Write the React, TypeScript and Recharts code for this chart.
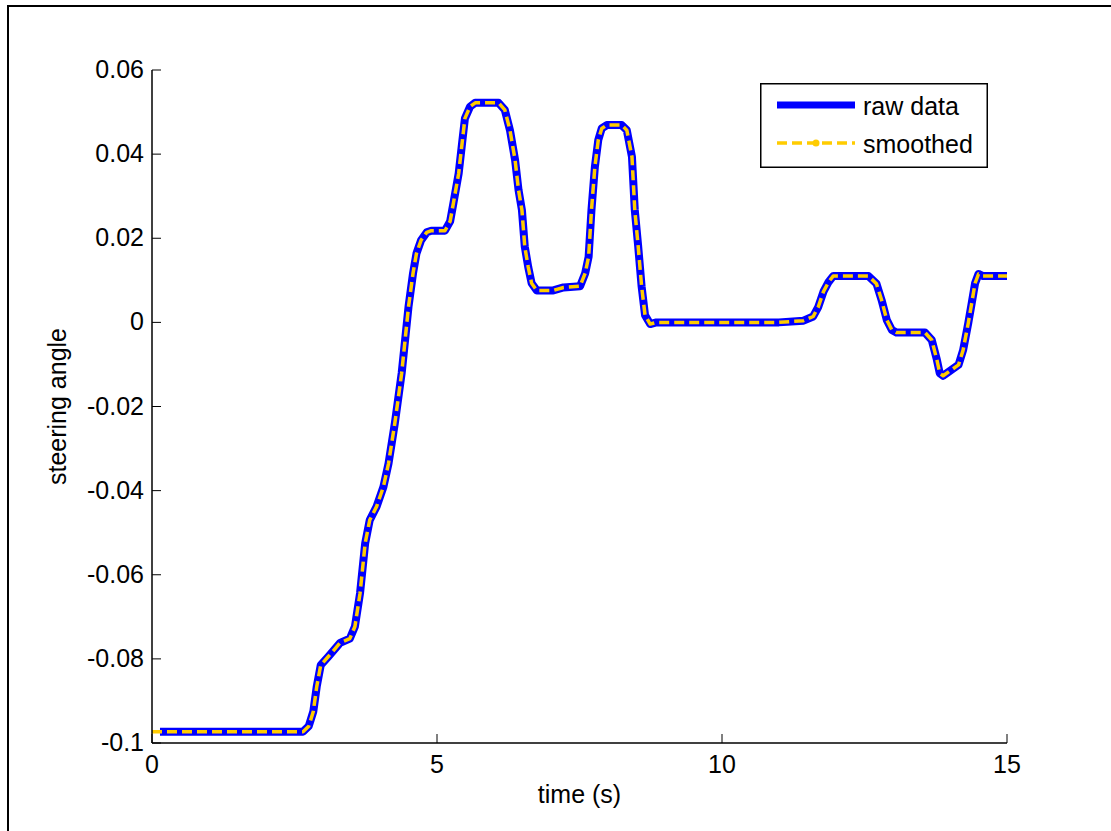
import { LineChart, Line, XAxis, YAxis, Legend } from 'recharts'

// time (s)
const TIME = [
  0, 0.14, 2.65, 2.75, 2.83, 2.89, 2.96, 3.09, 3.3, 3.47, 3.56, 3.65, 3.74, 3.82, 3.94, 4.06, 4.15, 4.26,
  4.38, 4.44, 4.5, 4.58, 4.64, 4.72, 4.82, 4.9, 5.14, 5.23, 5.29, 5.38, 5.44, 5.49, 5.58, 5.67, 6.08, 6.19,
  6.28, 6.37, 6.43, 6.49, 6.54, 6.6, 6.66, 6.75, 7.04, 7.22, 7.51, 7.6, 7.66, 7.71, 7.77, 7.83, 7.89, 7.98,
  8.24, 8.33, 8.42, 8.47, 8.53, 8.59, 8.65, 8.74, 8.85, 11.0, 11.43, 11.6, 11.69, 11.78, 11.87, 11.95, 12.57,
  12.71, 12.8, 12.89, 12.98, 13.06, 13.56, 13.68, 13.77, 13.82, 13.88, 14.15, 14.23, 14.32, 14.38, 14.44,
  14.5, 14.58, 15,
]

const RAW = [
  null, -0.0973, -0.0973, -0.096, -0.0925, -0.0866, -0.0815, -0.0795, -0.0762, -0.0752, -0.0723, -0.0644,
  -0.0525, -0.047, -0.0438, -0.0391, -0.0335, -0.024, -0.0121, -0.0042, 0.0037, 0.0117, 0.0164, 0.0195,
  0.0214, 0.0218, 0.0218, 0.024, 0.0285, 0.0354, 0.0426, 0.0485, 0.0513, 0.0522, 0.0522, 0.0505, 0.0457,
  0.0386, 0.0315, 0.0267, 0.018, 0.0132, 0.0093, 0.0076, 0.0076, 0.0083, 0.0086, 0.0117, 0.0156, 0.0267,
  0.037, 0.0434, 0.0461, 0.0469, 0.0469, 0.0457, 0.0394, 0.0267, 0.018, 0.0085, 0.0017, -0.0004, 0, 0,
  0.0004, 0.0014, 0.0037, 0.0073, 0.0096, 0.011, 0.011, 0.0092, 0.0053, 0.0006, -0.0018, -0.0024, -0.0024,
  -0.0042, -0.0089, -0.0121, -0.0127, -0.0101, -0.0066, -0.0002, 0.0045, 0.0093, 0.0115, 0.011, 0.011,
]

const SMOOTHED = [
  -0.0973, -0.0973, -0.0973, -0.096, -0.0925, -0.0866, -0.0815, -0.0795, -0.0762, -0.0752, -0.0723, -0.0644,
  -0.0525, -0.047, -0.0438, -0.0391, -0.0335, -0.024, -0.0121, -0.0042, 0.0037, 0.0117, 0.0164, 0.0195,
  0.0214, 0.0218, 0.0218, 0.024, 0.0285, 0.0354, 0.0426, 0.0485, 0.0513, 0.0522, 0.0522, 0.0505, 0.0457,
  0.0386, 0.0315, 0.0267, 0.018, 0.0132, 0.0093, 0.0076, 0.0076, 0.0083, 0.0086, 0.0117, 0.0156, 0.0267,
  0.037, 0.0434, 0.0461, 0.0469, 0.0469, 0.0457, 0.0394, 0.0267, 0.018, 0.0085, 0.0017, -0.0004, 0, 0,
  0.0004, 0.0014, 0.0037, 0.0073, 0.0096, 0.011, 0.011, 0.0092, 0.0053, 0.0006, -0.0018, -0.0024, -0.0024,
  -0.0042, -0.0089, -0.0121, -0.0127, -0.0101, -0.0066, -0.0002, 0.0045, 0.0093, 0.0115, 0.011, 0.011,
]

const X_TICKS = [0, 5, 10, 15]
const Y_TICKS = [-0.1, -0.08, -0.06, -0.04, -0.02, 0, 0.02, 0.04, 0.06]
const Y_TICK_LABELS = ['-0.1', '-0.08', '-0.06', '-0.04', '-0.02', '0', '0.02', '0.04', '0.06']

const data = TIME.map((t, i) => ({ t, raw: RAW[i], smoothed: SMOOTHED[i] }))

const FONT = '"Liberation Sans", Arial, Helvetica, sans-serif'
const FS = 25
const TICK_LEN = 9

// chart layout (matlab-ish axes box)
const W = 1111
const H = 831
const MARGIN = { top: 70, right: 104, bottom: 28, left: 72 }
const Y_AXIS_W = 80
const X_AXIS_H = 60
const PLOT_LEFT = MARGIN.left + Y_AXIS_W
const PLOT_RIGHT = W - MARGIN.right
const PLOT_TOP = MARGIN.top
const PLOT_BOTTOM = H - MARGIN.bottom - X_AXIS_H

// ticks point inward, like matlab
function BottomTick({ x, payload }: any) {
  return (
    <g>
      <line x1={x} x2={x} y1={PLOT_BOTTOM} y2={PLOT_BOTTOM - TICK_LEN} stroke="#000" />
      <text x={x} y={PLOT_BOTTOM + 30} textAnchor="middle" fontSize={FS} fontFamily={FONT} fill="#000">
        {payload.value}
      </text>
    </g>
  )
}

function LeftTick({ y, payload }: any) {
  const label = Y_TICK_LABELS[Y_TICKS.indexOf(payload.value)]
  return (
    <g>
      <line x1={PLOT_LEFT} x2={PLOT_LEFT + TICK_LEN} y1={y} y2={y} stroke="#000" />
      <text x={PLOT_LEFT - 8} y={y + 8} textAnchor="end" fontSize={FS} fontFamily={FONT} fill="#000">
        {label}
      </text>
    </g>
  )
}

function TopTick({ x }: any) {
  return <line x1={x} x2={x} y1={PLOT_TOP} y2={PLOT_TOP + TICK_LEN} stroke="#000" />
}

function RightTick({ y }: any) {
  return <line x1={PLOT_RIGHT} x2={PLOT_RIGHT - TICK_LEN} y1={y} y2={y} stroke="#000" />
}

function LegendBox() {
  return (
    <svg width={228} height={85} style={{ display: 'block' }}>
      <rect x={0.75} y={0.75} width={226.5} height={83.5} fill="#fff" stroke="#000" strokeWidth={1.5} />
      <line x1={17} x2={95} y1={22} y2={22} stroke="#0000FF" strokeWidth={7} />
      <text x={103} y={32} fontSize={FS} fontFamily={FONT} fill="#000">raw data</text>
      <line x1={17} x2={95} y1={60} y2={60} stroke="#FFCC00" strokeWidth={3.5} strokeDasharray="10 5" />
      <circle cx={56} cy={60} r={3.5} fill="#FFCC00" />
      <text x={103} y={70} fontSize={FS} fontFamily={FONT} fill="#000">smoothed</text>
    </svg>
  )
}

export default function App() {
  return (
    <div style={{ position: 'absolute', left: 0, top: 0, width: W, height: H, overflow: 'hidden', background: '#fff' }}>
      <div style={{ position: 'absolute', left: 7, top: 5, right: -20, bottom: -20, borderTop: '2px solid #000', borderLeft: '2px solid #000' }} />
      <div style={{ position: 'absolute', left: 0, top: 0 }}>
        <LineChart width={W} height={H} data={data} margin={MARGIN}>
          <XAxis
            dataKey="t"
            type="number"
            domain={[0, 15]}
            ticks={X_TICKS}
            interval={0}
            height={X_AXIS_H}
            tickLine={false}
            tickSize={0}
            tickMargin={0}
            tick={<BottomTick />}
            axisLine={{ stroke: '#000', strokeWidth: 1.5 }}
            allowDataOverflow
            label={{
              content: () => (
                <text x={(PLOT_LEFT + PLOT_RIGHT) / 2} y={803} textAnchor="middle" fontSize={FS} fontFamily={FONT} fill="#000">
                  time (s)
                </text>
              ),
            }}
          />
          <XAxis
            xAxisId="top"
            orientation="top"
            dataKey="t"
            type="number"
            domain={[0, 15]}
            ticks={X_TICKS}
            interval={0}
            height={0}
            tickLine={false}
            tickSize={0}
            tickMargin={0}
            tick={<TopTick />}
            axisLine={{ stroke: '#000', strokeWidth: 1.5 }}
            allowDataOverflow
          />
          <YAxis
            type="number"
            domain={[-0.1, 0.06]}
            ticks={Y_TICKS}
            interval={0}
            width={Y_AXIS_W}
            tickLine={false}
            tickSize={0}
            tickMargin={0}
            tick={<LeftTick />}
            axisLine={{ stroke: '#000', strokeWidth: 1.5 }}
            allowDataOverflow
            label={{
              content: () => (
                <text
                  transform={`translate(66,${(PLOT_TOP + PLOT_BOTTOM) / 2}) rotate(-90)`}
                  textAnchor="middle"
                  fontSize={FS}
                  fontFamily={FONT}
                  fill="#000"
                >
                  steering angle
                </text>
              ),
            }}
          />
          <YAxis
            yAxisId="right"
            orientation="right"
            type="number"
            domain={[-0.1, 0.06]}
            ticks={Y_TICKS}
            interval={0}
            width={0}
            tickLine={false}
            tickSize={0}
            tickMargin={0}
            tick={<RightTick />}
            axisLine={{ stroke: '#000', strokeWidth: 1.5 }}
            allowDataOverflow
          />
          <Legend
            layout="horizontal"
            verticalAlign="middle"
            align="center"
            content={() => <LegendBox />}
            wrapperStyle={{ left: 760, top: 83, width: 228, height: 85 }}
          />
          <Line
            dataKey="raw"
            name="raw data"
            stroke="#0000FF"
            strokeWidth={8}
            strokeLinejoin="round"
            dot={false}
            isAnimationActive={false}
          />
          <Line
            dataKey="smoothed"
            name="smoothed"
            stroke="#FFCC00"
            strokeWidth={3.5}
            strokeDasharray="10 5"
            strokeLinejoin="round"
            dot={false}
            isAnimationActive={false}
          />
        </LineChart>
      </div>
    </div>
  )
}
